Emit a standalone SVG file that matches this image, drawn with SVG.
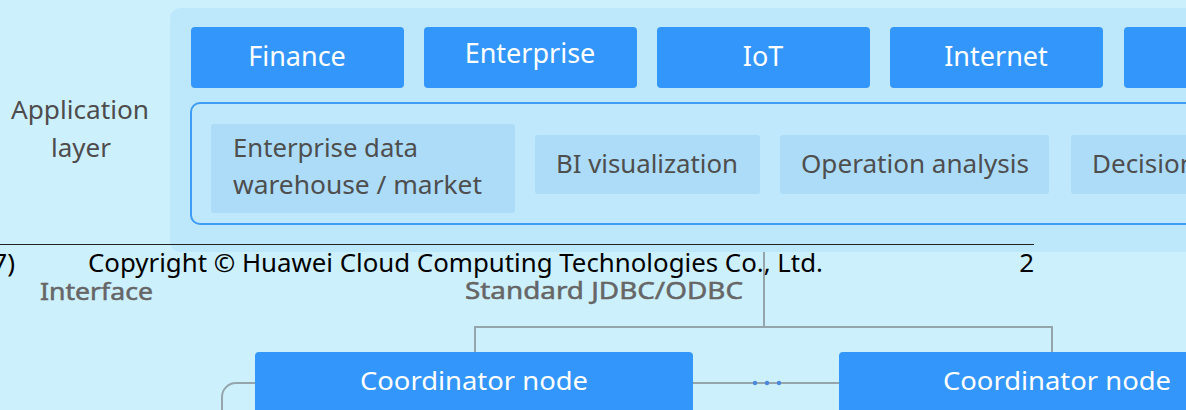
<svg xmlns="http://www.w3.org/2000/svg" width="1186" height="410" viewBox="0 0 1186 410">
  <style>
    text { font-family: "Noto Sans", "Open Sans", "DejaVu Sans", sans-serif; }
    .app { fill: #3396fa; }
    .appText { fill: #ffffff; font-size: 27px; text-anchor: middle; }
    .svc { fill: #acdcf8; }
    .svcText { fill: #4e4e4e; font-size: 26px; }
    .layerText { fill: #4d4d4d; font-size: 26px; text-anchor: middle; }
    .muted { fill: #666666; stroke: #666666; stroke-width: 0.5; font-size: 24px; }
    .coord { fill: #3396fa; }
    .coordText { fill: #ffffff; font-size: 26px; text-anchor: middle; }
    .wire { fill: none; stroke: #95a5ac; stroke-width: 2; }
    .footer { fill: #000000; font-size: 26px; }
  </style>

  <!-- page background -->
  <rect x="0" y="0" width="1186" height="410" fill="#cdf0fd"/>

  <!-- application layer panel -->
  <g id="application-layer">
    <rect x="170" y="8" width="1060" height="244" rx="10" fill="#bde7fb"/>
    <text class="layerText" x="80" y="119" textLength="138" lengthAdjust="spacingAndGlyphs">Application</text>
    <text class="layerText" x="81" y="157">layer</text>
  </g>

  <!-- industry boxes -->
  <g id="finance">
    <rect class="app" x="191" y="27" width="213" height="61" rx="4"/>
    <text class="appText" x="297" y="66">Finance</text>
  </g>
  <g id="enterprise">
    <rect class="app" x="424" y="27" width="213" height="61" rx="4"/>
    <text class="appText" x="530" y="63">Enterprise</text>
  </g>
  <g id="iot">
    <rect class="app" x="657" y="27" width="213" height="61" rx="4"/>
    <text class="appText" x="763" y="66">IoT</text>
  </g>
  <g id="internet">
    <rect class="app" x="890" y="27" width="213" height="61" rx="4"/>
    <text class="appText" x="996" y="66">Internet</text>
  </g>
  <g id="industry-5">
    <rect class="app" x="1124" y="27" width="213" height="61" rx="4"/>
  </g>

  <!-- analysis services frame -->
  <g id="services">
    <rect x="191" y="103" width="1060" height="121" rx="9" fill="#c0e8fc" stroke="#3f9cf5" stroke-width="2"/>
  </g>
  <g id="warehouse">
    <rect class="svc" x="211" y="124" width="304" height="89" rx="3"/>
    <text class="svcText" x="233" y="157" textLength="185" lengthAdjust="spacingAndGlyphs">Enterprise data</text>
    <text class="svcText" x="233" y="194" textLength="249" lengthAdjust="spacingAndGlyphs">warehouse / market</text>
  </g>
  <g id="bi">
    <rect class="svc" x="535" y="135" width="225" height="59" rx="3"/>
    <text class="svcText" x="556" y="173" textLength="182" lengthAdjust="spacingAndGlyphs">BI visualization</text>
  </g>
  <g id="operation">
    <rect class="svc" x="780" y="135" width="269" height="59" rx="3"/>
    <text class="svcText" x="801" y="173" textLength="228" lengthAdjust="spacingAndGlyphs">Operation analysis</text>
  </g>
  <g id="decision">
    <rect class="svc" x="1071" y="135" width="230" height="59" rx="3"/>
    <text class="svcText" x="1092" y="173">Decision</text>
  </g>

  <!-- interface labels -->
  <g id="interface">
    <text class="muted" x="40" y="300" textLength="113" lengthAdjust="spacingAndGlyphs">Interface</text>
    <text class="muted" x="465" y="299" textLength="278" lengthAdjust="spacingAndGlyphs">Standard JDBC/ODBC</text>
  </g>

  <!-- connectors -->
  <g id="connectors">
    <path class="wire" d="M764,252 V327"/>
    <path class="wire" d="M475,352 V327 H1052 V352"/>
    <path class="wire" d="M693,383 H839"/>
    <path class="wire" d="M255,383 H236 A14,14 0 0 0 222,397 V410"/>
    <circle cx="755" cy="383" r="2.2" fill="#4a88e0"/>
    <circle cx="767" cy="383" r="2.2" fill="#4a88e0"/>
    <circle cx="779" cy="383" r="2.2" fill="#4a88e0"/>
  </g>

  <!-- coordinator nodes -->
  <g id="coordinator-1">
    <rect class="coord" x="255" y="352" width="438" height="70" rx="4"/>
    <text class="coordText" x="474" y="390" textLength="228" lengthAdjust="spacingAndGlyphs">Coordinator node</text>
  </g>
  <g id="coordinator-2">
    <rect class="coord" x="839" y="352" width="438" height="70" rx="4"/>
    <text class="coordText" x="1057" y="390" textLength="228" lengthAdjust="spacingAndGlyphs">Coordinator node</text>
  </g>

  <!-- page footer -->
  <g id="footer">
    <line x1="0" y1="244.5" x2="1034" y2="244.5" stroke="#222222" stroke-width="1"/>
    <text class="footer" x="15" y="272" text-anchor="end">7)</text>
    <text class="footer" x="88" y="272" textLength="735" lengthAdjust="spacingAndGlyphs">Copyright © Huawei Cloud Computing Technologies Co., Ltd.</text>
    <text class="footer" x="1034" y="272" text-anchor="end">2</text>
  </g>
</svg>
